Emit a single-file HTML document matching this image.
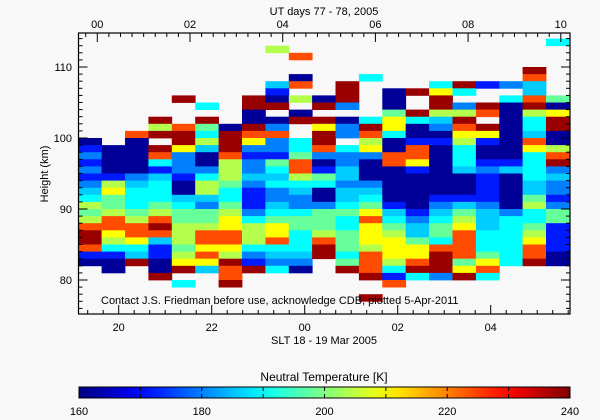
<!DOCTYPE html>
<html><head><meta charset="utf-8"><style>
html,body{margin:0;padding:0;background:#f8f8f8;}
svg{display:block;font-family:"Liberation Sans",sans-serif;}
</style></head><body>
<svg id="chart" width="600" height="420" viewBox="0 0 600 420" xmlns="http://www.w3.org/2000/svg">
<rect x="0" y="0" width="600" height="420" fill="#f8f8f8"/>
<g id="cells"></g>
<g id="axes"></g>
<text x="101" y="304" font-size="11" fill="#000">Contact J.S. Friedman before use, acknowledge CDB, plotted 5-Apr-2011</text>
<text x="324" y="15" font-size="11" text-anchor="middle">UT days 77 - 78, 2005</text>
<text x="324" y="344" font-size="11" text-anchor="middle">SLT 18 - 19 Mar 2005</text>
<text x="0" y="0" font-size="11" text-anchor="middle" transform="translate(48,174) rotate(-90)">Height (km)</text>
<text x="324" y="381" font-size="12" text-anchor="middle">Neutral Temperature [K]</text>
<defs><linearGradient id="jetg" x1="0" x2="1" y1="0" y2="0"></linearGradient></defs>
<rect x="79" y="387" width="491" height="11" fill="url(#jetg)" stroke="#000" stroke-width="1"/>
<g id="cbar"></g>
</svg>
<script>
// ---- data ----
// each column: 39 height bins from 114 km (top) down to 75 km, 1 km each
// code 0..9 => temperature via codeTemps ; '.' = no data
const columns = [
"..............012121234656899810.......",
"...............000016755688764100......",
".............8000002344456887439.......",
"...........969.9841344456898311009.....",
"........9...899722210034556665679.4....",
".........4.9546300246632556887873......",
"............09998666544567788769889....",
"........9900987212232111246664219......",
".6....3109.0282215434223457784324......",
"..8..08.6.09..4458864322455444320......",
"........09.97998201540025556899........",
"......9992.022.422332334544555459......",
".....4.....49867200023457877768889..9..",
".......0005774008800000134567776418....",
".......9..940018871000001233577894.....",
"......4799632010000000123455489992.....",
"......94.2698764443000135678888579.....",
"......1..98.9710012111123334445784.....",
"......2.400000000130000024444444.......",
"....9833896443874444335644567889.......",
"4.......507990068923221255111100......."
];
const codeTemps = [162, 172, 180, 186, 190, 198, 204, 210, 224, 238];
const tempMin = 160, tempMax = 240;
const topHeight = 114;           // km, top of first bin
const binKm = 1;
const firstColSLT = 19.13;       // hours
const colHours = 0.503;
const yTicks = [80, 90, 100, 110];
const xTicksSLT = [20, 22, 24, 26, 28];
const xTickLabels = ["20", "22", "00", "02", "04"];
const topTicksUT = [0, 2, 4, 6, 8, 10];
const topTickLabels = ["00", "02", "04", "06", "08", "10"];
const cbarTicks = [160, 180, 200, 220, 240];

// ---- scales ----
const X0 = 78.5, X1 = 570, Y0 = 33, Y1 = 314;
const xS = h => 118.7 + (h - 20) * 46.5;
const xU = h => 97.3 + h * 46.35;
const yS = km => 138 - (km - 100) * 7.1;
const cS = t => 79 + (t - tempMin) / (tempMax - tempMin) * 491;

function jet(t) {
  const c = v => Math.max(0, Math.min(1, v));
  const r = c(1.5 - Math.abs(4 * t - 3)), g = c(1.5 - Math.abs(4 * t - 2)), b = c(1.5 - Math.abs(4 * t - 1));
  return `rgb(${Math.round(r*255)},${Math.round(g*255)},${Math.round(b*255)})`;
}
const NS = "http://www.w3.org/2000/svg";
function mk(tag, attrs, parent) {
  const e = document.createElementNS(NS, tag);
  for (const k in attrs) e.setAttribute(k, attrs[k]);
  parent.appendChild(e);
  return e;
}
const cells = document.getElementById('cells');
columns.forEach((col, ci) => {
  const xa = xS(firstColSLT + ci * colHours), xb = xS(firstColSLT + (ci + 1) * colHours);
  for (let i = 0; i < col.length; i++) {
    const ch = col[i];
    if (ch === '.') continue;
    const temp = codeTemps[+ch];
    const ya = yS(topHeight - i * binKm), yb = yS(topHeight - (i + 1) * binKm);
    const r = mk('rect', {x: xa.toFixed(1), y: ya.toFixed(1), width: (xb - xa + 0.4).toFixed(1), height: (yb - ya + 0.4).toFixed(1), fill: jet((temp - tempMin) / (tempMax - tempMin))}, cells);
    
    
  }
});

const ax = document.getElementById('axes');
const frame = mk('rect', {x: X0, y: Y0, width: X1 - X0, height: Y1 - Y0, fill: 'none', stroke: '#000', 'stroke-width': 1.2}, ax);


for (let km = 76; km <= 114; km++) {
  const y = yS(km); if (y < Y0 || y > Y1) continue;
  const L = km % 10 === 0 ? 9 : 4;
  mk('line', {x1: X0, x2: X0 + L, y1: y, y2: y, stroke: '#000'}, ax);
  mk('line', {x1: X1, x2: X1 - L, y1: y, y2: y, stroke: '#000'}, ax);
}
yTicks.forEach(v => {
  const t = mk('text', {x: 72, y: yS(v) + 4, 'font-size': 11, 'text-anchor': 'end'}, ax);
  t.textContent = v;
  
  
});
for (let k = 0; k < 60; k++) {
  const h = 19 + k / 3; const x = xS(h); if (x < X0 || x > X1) continue;
  const major = Math.abs(h - Math.round(h)) < 1e-6 && Math.round(h) % 2 === 0;
  mk('line', {x1: x, x2: x, y1: Y1, y2: Y1 - (major ? 9 : 4), stroke: '#000'}, ax);
}
xTicksSLT.forEach((v, i) => {
  const t = mk('text', {x: xS(v), y: 331, 'font-size': 11, 'text-anchor': 'middle'}, ax);
  t.textContent = xTickLabels[i];
  
  
});
for (let k = -2; k < 50; k++) {
  const h = k / 4; const x = xU(h); if (x < X0 || x > X1) continue;
  const major = k % 8 === 0;
  mk('line', {x1: x, x2: x, y1: Y0, y2: Y0 + (major ? 9 : 4), stroke: '#000'}, ax);
}
topTicksUT.forEach((v, i) => {
  const t = mk('text', {x: xU(v), y: 28, 'font-size': 11, 'text-anchor': 'middle'}, ax);
  t.textContent = topTickLabels[i];
  
  
});
const g = document.getElementById('jetg');
for (let s = 0; s <= 20; s++) mk('stop', {offset: s / 20, 'stop-color': jet(s / 20)}, g);
const cb = document.getElementById('cbar');
for (let t = tempMin; t <= tempMax; t += 10) {
  mk('line', {x1: cS(t), x2: cS(t), y1: 387, y2: 391, stroke: '#000'}, cb);
  mk('line', {x1: cS(t), x2: cS(t), y1: 398, y2: 394, stroke: '#000'}, cb);
}
cbarTicks.forEach(v => {
  const t = mk('text', {x: cS(v), y: 415, 'font-size': 11, 'text-anchor': 'middle'}, cb);
  t.textContent = v;
  
  
});
</script>
</body></html>
